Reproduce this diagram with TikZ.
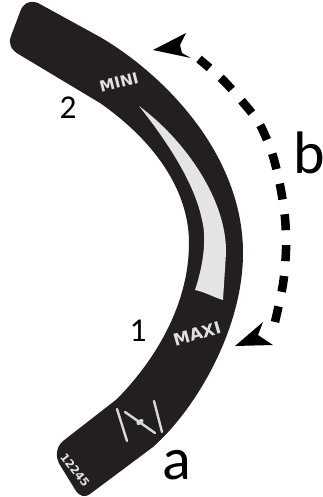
\documentclass[tikz,border=0pt]{standalone}
\usepackage{fontspec}
\setmainfont{Carlito}
\newfontfamily\markfont{DejaVu Sans}
\definecolor{body}{HTML}{231F20}
\definecolor{bar}{HTML}{E4E4E4}
\tikzset{
  lab/.style={inner sep=0pt,text=black},
  mark text/.style={inner sep=0pt,text=white!88!black},
  tick/.style={draw=white!85!black,line width=1.8pt,line cap=round},
}
\begin{document}
\begin{tikzpicture}[x=0.75pt,y=-0.75pt]
\useasboundingbox (0,0) rectangle (323,497);
% body
\fill[body] (38,3) -- (100,37) .. controls (165,75) and (243,155) .. (243,253)
  .. controls (243,330) and (195,410) .. (153,447) -- (90,494)
  .. controls (84,498) and (80,496) .. (76,491)
  -- (60,465) .. controls (55,457) and (56,447) .. (63,441)
  -- (117,399) .. controls (160,355) and (189,300) .. (189,243)
  .. controls (189,195) and (160,145) .. (100,103)
  -- (20,55)
  .. controls (11,50) and (8,44) .. (11,36)
  -- (20,12) .. controls (23,3) and (30,0) .. (38,3) -- cycle;
% gauge bar
\fill[bar] (139,106) .. controls (185,140) and (227,200) .. (226,253)
  -- (223,300)
  .. controls (213,297) and (205,292) .. (195,290)
  .. controls (205,260) and (206,235) .. (202,220)
  .. controls (195,185) and (170,145) .. (139,106) -- cycle;
% labels on body
\node[mark text,font=\markfont\bfseries\fontsize{11.5pt}{13pt}\selectfont,rotate=14] (mini) at (119,82) {MINI};
\node[mark text,font=\markfont\bfseries\fontsize{12.5pt}{14pt}\selectfont,rotate=16] (maxi) at (197,334) {MAXI};
\node[mark text,font=\markfont\bfseries\fontsize{8.5pt}{10pt}\selectfont,rotate=-52] (num) at (75,470) {12245};
% symbol
\coordinate (s1a) at (117,409); \coordinate (s1b) at (127,441);
\coordinate (s2a) at (154,401); \coordinate (s2b) at (162,432);
\coordinate (s3a) at (125,412); \coordinate (s3b) at (155,433);
\draw[tick] (s1a) -- (s1b);
\draw[tick] (s2a) -- (s2b);
\draw[tick] (s3a) -- (s3b);
\fill[white!85!black,rotate around={35:(140,422)}] (140,422) ellipse (4 and 2.5);
% dashed arc
\coordinate (ta) at (153,50);
\coordinate (tb) at (235,346);
\draw[black,line width=6.4pt,dash pattern=on 12pt off 11.2pt] plot[smooth] coordinates {(275,322) (283,284) (286,250) (285,218) (280,185) (272,153) (259,123) (241,100) (222,79) (199,59)};
% arrowheads
\fill[black] (ta) -- (186,33) -- (180,45) -- (182,53) -- (191,58) -- cycle;
\fill[black] (tb) -- (263,322) -- (258,335) -- (273,345) -- cycle;
% letters
\node[lab,font=\fontsize{25pt}{28pt}\selectfont] (two) at (68,108) {2};
\node[lab,font=\fontsize{25pt}{28pt}\selectfont] (one) at (138,331) {1};
\node[lab,font=\fontsize{45pt}{50pt}\selectfont] (b) at (309,153) {b};
\node[lab,font=\fontsize{45pt}{50pt}\selectfont] (a) at (177,465) {a};
\end{tikzpicture}
\end{document}
